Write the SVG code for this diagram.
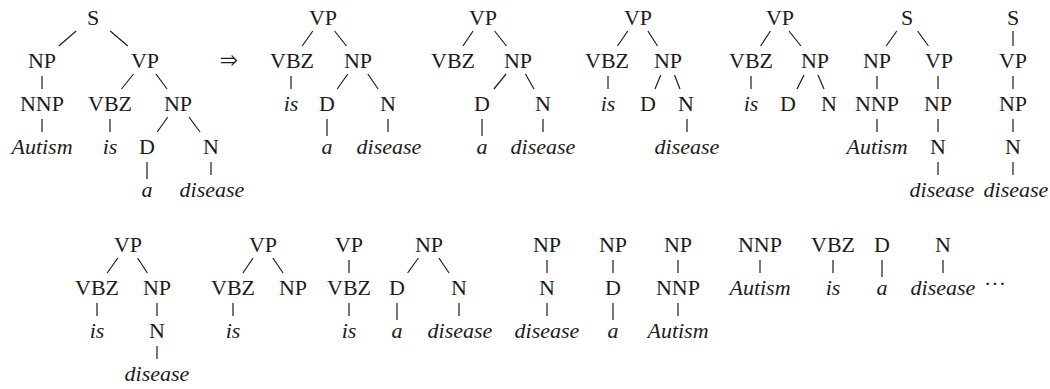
<svg xmlns="http://www.w3.org/2000/svg" width="1050" height="389" viewBox="0 0 1050 389">
<style>
text{font-family:"Liberation Serif",LiberationSerif,Tinos,"Times New Roman",Times,"Nimbus Roman","Nimbus Roman No9 L",FreeSerif,"DejaVu Serif","Noto Serif",Georgia,serif;font-size:22px;fill:#1c1c1c;text-anchor:middle}
.i{font-style:italic}
#edges line{stroke:#1c1c1c;stroke-width:1.2;fill:none}
</style>
<rect width="1050" height="389" fill="#fff"/>
<g id="edges">
<line x1="76.2" y1="31" x2="58.8" y2="46"/><line x1="110.2" y1="31" x2="127.8" y2="46"/>
<line x1="42" y1="76" x2="42" y2="89"/><line x1="133.5" y1="74" x2="121.5" y2="89"/><line x1="155.9" y1="74" x2="167.1" y2="89"/>
<line x1="42" y1="119" x2="42" y2="132"/><line x1="110" y1="119" x2="110" y2="132"/><line x1="167.8" y1="117" x2="157.2" y2="132"/><line x1="188.9" y1="117" x2="200.1" y2="132"/>
<line x1="147" y1="162" x2="147" y2="179"/><line x1="211" y1="162" x2="211" y2="175"/>
<line x1="312.8" y1="31" x2="302.2" y2="46"/><line x1="334.6" y1="31" x2="346.5" y2="46"/>
<line x1="291" y1="76" x2="291" y2="89"/><line x1="347.8" y1="74" x2="337.2" y2="89"/><line x1="367.9" y1="74" x2="378.1" y2="89"/>
<line x1="327" y1="119" x2="327" y2="136"/><line x1="388" y1="119" x2="388" y2="132"/>
<line x1="473.1" y1="31" x2="462.9" y2="46"/><line x1="494.6" y1="31" x2="506.5" y2="46"/>
<line x1="506.1" y1="74" x2="493.9" y2="89"/><line x1="525.5" y1="74" x2="534" y2="89"/>
<line x1="482" y1="119" x2="482" y2="136"/><line x1="543" y1="119" x2="543" y2="132"/>
<line x1="627.8" y1="31" x2="617.5" y2="46"/><line x1="647.9" y1="31" x2="657.5" y2="46"/>
<line x1="608" y1="76" x2="608" y2="89"/><line x1="660.8" y1="75" x2="655" y2="89"/><line x1="674.5" y1="75" x2="680" y2="89"/>
<line x1="687" y1="119" x2="687" y2="132"/>
<line x1="770.4" y1="31" x2="760.6" y2="46"/><line x1="789" y1="31" x2="801" y2="46"/>
<line x1="751" y1="76" x2="751" y2="89"/><line x1="804" y1="75" x2="797" y2="89"/><line x1="818" y1="75" x2="824" y2="89"/>
<line x1="896.8" y1="31" x2="886.2" y2="46"/><line x1="917.6" y1="31" x2="928.4" y2="46"/>
<line x1="877" y1="76" x2="877" y2="89"/><line x1="938" y1="76" x2="938" y2="89"/>
<line x1="877" y1="119" x2="877" y2="132"/><line x1="938" y1="119" x2="938" y2="132"/>
<line x1="938" y1="162" x2="938" y2="175"/>
<line x1="1013" y1="31" x2="1013" y2="46"/><line x1="1013" y1="76" x2="1013" y2="89"/>
<line x1="1013" y1="119" x2="1013" y2="132"/><line x1="1013" y1="162" x2="1013" y2="175"/>
<line x1="117.8" y1="258" x2="107.2" y2="273"/><line x1="137.6" y1="258" x2="147.4" y2="273"/>
<line x1="97" y1="303" x2="97" y2="316"/><line x1="157" y1="303" x2="157" y2="316"/>
<line x1="157" y1="346" x2="157" y2="359"/>
<line x1="253.1" y1="258" x2="242.9" y2="273"/><line x1="272.9" y1="258" x2="283.1" y2="273"/>
<line x1="233" y1="303" x2="233" y2="316"/>
<line x1="349" y1="260" x2="349" y2="273"/><line x1="349" y1="303" x2="349" y2="316"/>
<line x1="418.4" y1="258" x2="407.6" y2="273"/><line x1="438.9" y1="258" x2="449.1" y2="273"/>
<line x1="397" y1="303" x2="397" y2="320"/><line x1="459" y1="303" x2="459" y2="316"/>
<line x1="547" y1="260" x2="547" y2="273"/><line x1="547" y1="303" x2="547" y2="316"/>
<line x1="613" y1="260" x2="613" y2="273"/><line x1="613" y1="303" x2="613" y2="320"/>
<line x1="678" y1="260" x2="678" y2="273"/><line x1="678" y1="303" x2="678" y2="316"/>
<line x1="760" y1="260" x2="760" y2="273"/>
<line x1="833" y1="260" x2="833" y2="273"/>
<line x1="882" y1="260" x2="882" y2="277"/>
<line x1="943" y1="260" x2="943" y2="273"/>
</g>
<g id="nodes">
<g id="t1-S"><text x="93" y="25">S</text></g>
<g id="t1-NP"><text x="42" y="68">NP</text></g>
<g id="t1-VP"><text x="145" y="68">VP</text></g>
<g id="t1-NNP"><text x="42" y="111">NNP</text></g>
<g id="t1-VBZ"><text x="110" y="111">VBZ</text></g>
<g id="t1-NP2"><text x="178" y="111">NP</text></g>
<g id="t1-Autism"><text class="i" x="42" y="154">Autism</text></g>
<g id="t1-is"><text class="i" x="110" y="154">is</text></g>
<g id="t1-D"><text x="147" y="154">D</text></g>
<g id="t1-N"><text x="211" y="154">N</text></g>
<g id="t1-a"><text class="i" x="147" y="197">a</text></g>
<g id="t1-disease"><text class="i" x="212" y="197">disease</text></g>
<g id="arrow"><text x="229" y="66">⇒</text></g>
<g id="t2-VP"><text x="323" y="25">VP</text></g>
<g id="t2-VBZ"><text x="292" y="68">VBZ</text></g>
<g id="t2-NP"><text x="358" y="68">NP</text></g>
<g id="t2-is"><text class="i" x="291" y="111">is</text></g>
<g id="t2-D"><text x="327" y="111">D</text></g>
<g id="t2-N"><text x="388" y="111">N</text></g>
<g id="t2-a"><text class="i" x="327" y="154">a</text></g>
<g id="t2-disease"><text class="i" x="389" y="154">disease</text></g>
<g id="t3-VP"><text x="483" y="25">VP</text></g>
<g id="t3-VBZ"><text x="453" y="68">VBZ</text></g>
<g id="t3-NP"><text x="518" y="68">NP</text></g>
<g id="t3-D"><text x="482" y="111">D</text></g>
<g id="t3-N"><text x="543" y="111">N</text></g>
<g id="t3-a"><text class="i" x="482" y="154">a</text></g>
<g id="t3-disease"><text class="i" x="543" y="154">disease</text></g>
<g id="t4-VP"><text x="638" y="25">VP</text></g>
<g id="t4-VBZ"><text x="607" y="68">VBZ</text></g>
<g id="t4-NP"><text x="668" y="68">NP</text></g>
<g id="t4-is"><text class="i" x="608" y="111">is</text></g>
<g id="t4-D"><text x="648" y="111">D</text></g>
<g id="t4-N"><text x="686" y="111">N</text></g>
<g id="t4-disease"><text class="i" x="687" y="154">disease</text></g>
<g id="t5-VP"><text x="780" y="25">VP</text></g>
<g id="t5-VBZ"><text x="751" y="68">VBZ</text></g>
<g id="t5-NP"><text x="815" y="68">NP</text></g>
<g id="t5-is"><text class="i" x="751" y="111">is</text></g>
<g id="t5-D"><text x="788" y="111">D</text></g>
<g id="t5-N"><text x="829" y="111">N</text></g>
<g id="t6-S"><text x="907" y="25">S</text></g>
<g id="t6-NP"><text x="877" y="68">NP</text></g>
<g id="t6-VP"><text x="939" y="68">VP</text></g>
<g id="t6-NNP"><text x="877" y="111">NNP</text></g>
<g id="t6-NP2"><text x="938" y="111">NP</text></g>
<g id="t6-Autism"><text class="i" x="877" y="154">Autism</text></g>
<g id="t6-N"><text x="938" y="154">N</text></g>
<g id="t6-disease"><text class="i" x="942" y="197">disease</text></g>
<g id="t7-S"><text x="1013" y="25">S</text></g>
<g id="t7-VP"><text x="1013" y="68">VP</text></g>
<g id="t7-NP"><text x="1013" y="111">NP</text></g>
<g id="t7-N"><text x="1013" y="154">N</text></g>
<g id="t7-disease"><text class="i" x="1016" y="197">disease</text></g>
<g id="b1-VP"><text x="128" y="252">VP</text></g>
<g id="b1-VBZ"><text x="97" y="295">VBZ</text></g>
<g id="b1-NP"><text x="157" y="295">NP</text></g>
<g id="b1-is"><text class="i" x="97" y="338">is</text></g>
<g id="b1-N"><text x="157" y="338">N</text></g>
<g id="b1-disease"><text class="i" x="157" y="381">disease</text></g>
<g id="b2-VP"><text x="263" y="252">VP</text></g>
<g id="b2-VBZ"><text x="233" y="295">VBZ</text></g>
<g id="b2-NP"><text x="293" y="295">NP</text></g>
<g id="b2-is"><text class="i" x="233" y="338">is</text></g>
<g id="b3-VP"><text x="349" y="252">VP</text></g>
<g id="b3-VBZ"><text x="349" y="295">VBZ</text></g>
<g id="b3-is"><text class="i" x="349" y="338">is</text></g>
<g id="b4-NP"><text x="429" y="252">NP</text></g>
<g id="b4-D"><text x="397" y="295">D</text></g>
<g id="b4-N"><text x="459" y="295">N</text></g>
<g id="b4-a"><text class="i" x="397" y="338">a</text></g>
<g id="b4-disease"><text class="i" x="460" y="338">disease</text></g>
<g id="b5-NP"><text x="547" y="252">NP</text></g>
<g id="b5-N"><text x="547" y="295">N</text></g>
<g id="b5-disease"><text class="i" x="547" y="338">disease</text></g>
<g id="b6-NP"><text x="613" y="252">NP</text></g>
<g id="b6-D"><text x="613" y="295">D</text></g>
<g id="b6-a"><text class="i" x="613" y="338">a</text></g>
<g id="b7-NP"><text x="678" y="252">NP</text></g>
<g id="b7-NNP"><text x="678" y="295">NNP</text></g>
<g id="b7-Autism"><text class="i" x="678" y="338">Autism</text></g>
<g id="b8-NNP"><text x="760" y="252">NNP</text></g>
<g id="b8-Autism"><text class="i" x="760" y="295">Autism</text></g>
<g id="b9-VBZ"><text x="833" y="252">VBZ</text></g>
<g id="b9-is"><text class="i" x="833" y="295">is</text></g>
<g id="b10-D"><text x="882" y="252">D</text></g>
<g id="b10-a"><text class="i" x="882" y="295">a</text></g>
<g id="b11-N"><text x="943" y="252">N</text></g>
<g id="b11-disease"><text class="i" x="943" y="295">disease</text></g>
<g id="ellipsis"><text x="995" y="291">···</text></g>
</g>
</svg>
